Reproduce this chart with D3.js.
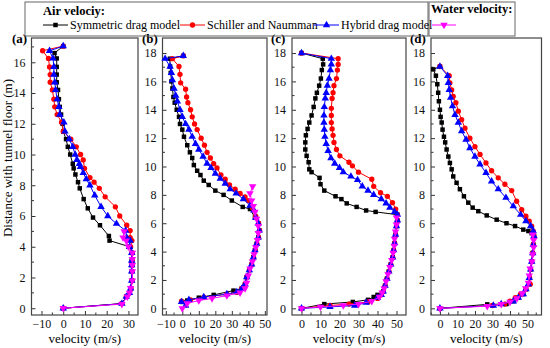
<!DOCTYPE html>
<html>
<head>
<meta charset="utf-8">
<script src="https://cdn.jsdelivr.net/npm/d3@7"></script>
<style>
body { margin:0; background:#fff; }
text { font-family:"Liberation Serif","Times New Roman",serif; }
</style>
</head>
<body>
<script>
// velocity profiles, [velocity m/s, height m]
var aSym = [[0,17.05],[-4,16.6],[-3,16.25],[-3,15.7],[-3,15.2],[-3,14.7],[-2.4,14.2],[-2,13.6],[-1.6,13.1],[-1,12.6],[-0.3,12],[0,11.5],[1.3,11],[2.1,10.5],[3.2,10],[4.4,9.4],[4.8,9.1],[5.6,8.7],[6.8,8.2],[7.6,7.8],[9.4,7.1],[11.3,6.5],[13.7,5.9],[16.9,5.4],[21,4.7],[21.3,4.4],[30.5,4.0],[31.5,3.6],[31.5,3.1],[31.5,2.8],[31.5,2.4],[31.5,1.8],[31,1.3],[30.5,1.0],[29,0.75],[27,0.3],[0,0]];
var aSch = [[0,17.05],[-9.5,16.75],[-6.8,16.25],[-6.3,15.7],[-6,15.2],[-6,14.7],[-5,14.2],[-4.3,13.6],[-3.9,13.1],[-2.8,12.6],[-0.8,12.1],[0,11.5],[3.5,11],[6,10.5],[8,10],[9.2,9.65],[9.8,9.1],[12.3,8.5],[14.2,8.2],[16.6,7.8],[19.3,7.25],[24,6.6],[26,6.0],[29.2,5.4],[30.8,5.05],[30.8,4.6],[31.6,4.4],[31,4.0],[31.8,3.6],[31.8,3.1],[31.8,2.8],[31.8,2.4],[31.8,1.8],[31.2,1.3],[30.5,1.0],[29,0.75],[27,0.3],[0,0]];
var aHyb = [[0,17.05],[-6.3,16.75],[-4.7,16.25],[-4.3,15.7],[-4.3,15.2],[-3.9,14.7],[-3.5,14.2],[-2.8,13.6],[-2,13.1],[-1.6,12.6],[0.3,12.1],[0.8,11.5],[2.8,11],[4.4,10.5],[5.5,10],[6.3,9.65],[7.4,9.4],[7.9,9.2],[9.2,8.8],[10.6,8.4],[12.3,8.0],[14.5,7.35],[17.4,6.6],[20.5,6.0],[24.5,5.5],[28.7,5.05],[29.2,4.6],[30.8,4.4],[30.5,4.0],[31.5,3.6],[31.5,3.1],[31.5,2.8],[31.5,2.4],[31.5,1.8],[31,1.3],[30.5,1.0],[29,0.75],[27,0.3],[0,0]];
var aWat = [[28,5.0],[27.5,4.6],[29,4.4],[30,4.0],[31.8,3.6],[31.8,3.2],[31.8,2.8],[31.8,2.4],[31.8,1.8],[31,1.3],[30.5,1.0],[29.5,0.75],[27,0.27],[0,0]];

var bSym = [[0.6,17.8],[-7.5,17.6],[-7.4,17.05],[-7,16.6],[-6.6,16.0],[-6,15.5],[-5.4,14.9],[-4.6,14.5],[-3.4,14.0],[-2,13.5],[-1.4,13.0],[0,12.6],[1,12.1],[3,11.5],[4.6,11.0],[6,10.6],[7,10.1],[9,9.7],[11,9.4],[13,9.0],[16,8.7],[20,8.3],[25,8.0],[30,7.6],[36.6,7.15],[41,7.0],[44,6.4],[46,6.0],[46.6,5.5],[46,5.0],[45,4.55],[44,4.1],[43,3.6],[42,3.1],[40.6,2.7],[39,2.2],[38,1.7],[36,1.4],[31,1.25],[19,0.95],[10,0.75],[3,0.55],[0,0.45]];
var bSch = [[0.6,17.8],[-6,17.6],[-2,17.05],[-1.4,16.5],[-1,15.9],[2,15.45],[2.6,14.9],[3.4,14.5],[5,14.0],[6,13.5],[7.4,13.0],[9,12.6],[11.4,12.0],[13.4,11.5],[15,11.0],[17,10.6],[19,10.2],[21,9.9],[23.4,9.4],[26,9.1],[28.6,8.7],[32,8.4],[35,8.1],[38,7.85],[40,7.6],[42.5,7.1],[44.5,6.5],[46.2,6.0],[46.8,5.5],[46.2,5.0],[45.2,4.55],[44.2,4.1],[43.2,3.6],[42,3.1],[40.6,2.7],[39,2.2],[38,1.7],[36,1.4],[33,1.13],[27,1.0],[13,0.78],[5,0.6],[-0.5,0.5]];
var bHyb = [[0.6,17.8],[-10.4,17.6],[-7.4,17.05],[-6.6,16.6],[-6,16.1],[-5,15.5],[-4,15.0],[-3,14.6],[-1.4,14.0],[0,13.5],[2,13.0],[4,12.6],[6,12.1],[8,11.6],[10,11.2],[12.6,10.7],[15,10.2],[17.4,9.9],[20,9.5],[23,9.15],[26,8.8],[29,8.4],[32.6,8.1],[37,7.7],[41,7.25],[43.4,6.9],[44.5,6.4],[46,6.0],[46.6,5.5],[46,5.0],[45,4.55],[44,4.1],[43,3.6],[42,3.1],[40.6,2.7],[39,2.2],[38,1.7],[36,1.37],[33,1.15],[27,1.0],[13,0.8],[4,0.6],[-0.5,0.45],[2,0.2]];
var bWat = [[42.6,8.6],[41,8.1],[42,7.6],[43,7.2],[44,6.8],[45,6.3],[46,5.8],[46,5.3],[45.5,4.8],[44.5,4.3],[43.5,3.8],[42.5,3.3],[41,2.8],[40,2.3],[39,1.8],[38,1.4],[35,1.1],[27,0.9],[18,0.7],[10,0.55],[3,0.35],[0,0]];

var cSym = [[0,18],[11.2,17.6],[11.4,17.2],[10.7,16.8],[10.2,16.2],[9.3,15.7],[8.1,15.2],[7.3,14.8],[6.4,14.2],[5.3,13.6],[4.1,13.1],[3.2,12.65],[2.3,12.2],[2,11.7],[2,11.2],[2.7,10.75],[3.75,10.3],[4.1,9.8],[5.3,9.6],[9.5,9.2],[10,8.75],[12,8.3],[17.9,7.9],[21,7.7],[23.8,7.4],[29,7.15],[34,6.9],[39,6.8],[50.5,6.6],[50.5,6.2],[50,5.8],[49.5,5.2],[49,4.6],[48.5,4.1],[48,3.6],[47,3.1],[46,2.6],[45,2.1],[44,1.6],[43,1.2],[40,0.95],[38,0.8],[35,0.6],[27,0.45],[12,0.3],[0,0]];
var cSch = [[0,18],[19.3,17.6],[19.3,17.2],[18.9,16.8],[18.4,16.2],[17.1,15.7],[16.6,15.2],[16.1,14.8],[15.7,14.1],[15.7,13.6],[15.7,13.1],[16.1,12.65],[16.6,12.2],[17.1,11.7],[18.4,11.2],[20.2,10.75],[25,10.3],[26.8,10.05],[30,9.6],[37,9.1],[38,8.6],[41.6,8.15],[45.2,7.9],[47.9,7.45],[49.6,7.0],[50.5,6.6],[50.5,6.2],[50,5.8],[49.5,5.2],[49,4.6],[48.5,4.1],[48,3.6],[47,3.1],[46,2.6],[45,2.1],[44,1.6],[43,1.2],[42,0.95],[40,0.7],[35,0.45],[25,0.3],[15,0.2],[0,0]];
var cHyb = [[0,18],[15.7,17.6],[15.7,17.2],[15.2,16.8],[14.5,16.2],[13.6,15.7],[13,15.2],[12.5,14.8],[12,14.2],[11.8,13.6],[11.8,13.1],[12,12.6],[12.3,12.1],[13,11.6],[14,11.1],[15.5,10.6],[17.5,10.2],[20,9.9],[22,9.6],[26,9.3],[29.5,9.05],[32,8.6],[35,8.3],[38,8.0],[42,7.7],[44.5,7.4],[46.5,7.1],[49,6.8],[50.5,6.6],[50.5,6.2],[50,5.8],[49.5,5.2],[49,4.6],[48.5,4.1],[48,3.6],[47,3.1],[46,2.6],[45,2.1],[44,1.6],[43,1.2],[42,0.95],[40,0.75],[34,0.4],[28,0.2],[15,0.1],[0,0]];
var cWat = [[50,6.4],[50,5.9],[49.5,5.4],[49,4.9],[48.8,4.4],[48.2,3.9],[47.5,3.4],[46.5,2.9],[45.5,2.4],[44.5,1.9],[43.5,1.4],[42.5,1.1],[41,0.8],[37,0.5],[30,0.3],[22,0.2],[10,0.1],[0,0]];

var dSym = [[0,17.05],[-3.8,16.85],[-2.3,16.4],[-1.5,15.8],[-1,15.2],[-0.6,14.6],[0,14.0],[0.4,13.5],[1,13.1],[1.5,12.6],[2.3,12.1],[3,11.7],[3.8,11.2],[4.8,10.7],[5.7,10.25],[6.7,9.8],[7.6,9.3],[9.5,8.85],[11.4,8.4],[13.7,7.9],[16.2,7.45],[18.7,7.1],[21.9,6.85],[26.7,6.55],[32.4,6.25],[38,6.0],[42.9,5.8],[47.6,5.55],[50.5,5.45],[52.4,5.3],[53.7,5.1],[53.3,4.5],[53,3.9],[52.4,3.3],[51.8,2.75],[51,2.15],[50.5,1.7],[49.1,1.35],[47.6,1.0],[44.8,0.75],[41.9,0.5],[38,0.3],[27,0.28],[0,0]];
var dSch = [[0,17.05],[5.3,16.4],[5.7,15.9],[6.7,15.4],[7.6,14.95],[9.1,14.5],[10.5,13.9],[12.4,13.3],[14.3,12.7],[17.1,12.0],[20,11.4],[22.9,10.85],[26.3,10.25],[29.5,9.7],[33.3,9.2],[37.1,8.75],[41,8.3],[43.8,7.55],[46.7,6.95],[49.1,6.5],[51,6.15],[52.4,5.8],[53.3,5.45],[53.7,5.1],[53.3,4.5],[53,3.9],[52.4,3.3],[51.8,2.75],[51.2,2.15],[51.6,1.7],[49.1,1.35],[46,1.0],[43,0.75],[40,0.5],[37,0.3],[30,0.2],[0,0]];
var dHyb = [[0,17.05],[4.4,16.4],[4.8,15.9],[5.3,15.4],[6.1,14.85],[7.2,14.25],[8.6,13.65],[10.5,13.1],[12.4,12.5],[14.9,11.9],[17.1,11.3],[20,10.7],[22.9,10.15],[26.3,9.55],[29.5,8.95],[33.3,8.4],[37.7,7.8],[41.9,7.2],[46.1,6.6],[49.1,6.15],[51.8,5.8],[53.3,5.45],[53.7,5.1],[53.3,4.5],[53,3.9],[52.4,3.3],[51.8,2.75],[51,2.15],[50.5,1.7],[49.1,1.35],[47.6,1.0],[44.8,0.75],[41.9,0.5],[35,0.3],[30.5,0.2],[0,0]];
var dWat = [[53,5.2],[53.5,4.8],[53.5,4.3],[53,3.8],[52.5,3.3],[51.5,2.8],[51,2.3],[50.5,1.8],[49,1.4],[47,1.05],[44,0.7],[40,0.45],[35,0.3],[27,0.15],[0,0]];

var panelNames = ["(a)","(b)","(c)","(d)"];
var xTickVals = [[-10,0,10,20,30],[-10,0,10,20,30,40,50],[0,10,20,30,40,50],[0,10,20,30,40,50]];
var yTickVals = [[0,2,4,6,8,10,12,14,16],[0,2,4,6,8,10,12,14,16,18],[0,2,4,6,8,10,12,14,16,18],[0,2,4,6,8,10,12,14,16,18]];
var seriesNames = ["Symmetric drag model","Schiller and Naumman","Hybrid drag model"];

var W = 550, H = 348;
var svg = d3.select("body").append("svg").attr("width",W).attr("height",H)
  .attr("font-family","Liberation Serif");

var colors = ["#000000","#ff0000","#0000ff","#ff00ff"];
var shapes = [d3.symbolSquare, d3.symbolCircle, d3.symbolTriangle, "down"];

function marker(g, k, x, y) {
  if (shapes[k] === "down") {
    g.append("path").attr("d", d3.symbol(d3.symbolTriangle).size(24)())
      .attr("transform","translate("+x+","+y+") rotate(180)").attr("fill",colors[k]);
  } else {
    var sz = k==0 ? 20 : (k==1 ? 22 : 24);
    g.append("path").attr("d", d3.symbol(shapes[k]).size(sz)())
      .attr("transform","translate("+x+","+y+")").attr("fill",colors[k]);
  }
}

var panels = [
  {x0:31.5, x1:138, xd:[-14.6,34.4], yd:[-0.44,17.58], data:[aSym,aSch,aHyb,aWat], lx:12},
  {x0:162.5, x1:267, xd:[-12,51.3], yd:[-0.47,19.06], data:[bSym,bSch,bHyb,bWat], lx:142},
  {x0:292, x1:406, xd:[-5,55], yd:[-0.47,19.06], data:[cSym,cSch,cHyb,cWat], lx:271},
  {x0:431, x1:541.5, xd:[-5.1,58], yd:[-0.47,19.06], data:[dSym,dSch,dHyb,dWat], lx:410}
];
var topY = 38, botY = 315;

panels.forEach(function(p, i) {
  var x = d3.scaleLinear().domain(p.xd).range([p.x0, p.x1]);
  var y = d3.scaleLinear().domain(p.yd).range([botY, topY]);
  var g = svg.append("g");

  // minor ticks
  var xMinor = d3.range(-15, 60, 5).filter(function(v){ return v>p.xd[0] && v<p.xd[1] && xTickVals[i].indexOf(v)<0; });
  var yMinor = d3.range(1, 19, 2).filter(function(v){ return v<p.yd[1]; });

  var xAxis = d3.axisBottom(x).tickValues(xTickVals[i]).tickSizeInner(-4).tickSizeOuter(0).tickPadding(4);
  var yAxis = d3.axisLeft(y).tickValues(yTickVals[i]).tickSizeInner(-4).tickSizeOuter(0).tickPadding(6);
  var ax = g.append("g").attr("transform","translate(0,"+botY+")").call(xAxis);
  var ay = g.append("g").attr("transform","translate("+p.x0+",0)").call(yAxis);
  [ax, ay].forEach(function(a){
    a.attr("font-family","Liberation Serif");
    a.select(".domain").remove();
    a.selectAll("line").attr("stroke","#333");
    a.selectAll("text").attr("font-size",12).attr("fill","#111");
  });
  g.selectAll(".xm").data(xMinor).enter().append("line")
    .attr("x1",function(d){return x(d);}).attr("x2",function(d){return x(d);})
    .attr("y1",botY).attr("y2",botY-2.5).attr("stroke","#333");
  g.selectAll(".ym").data(yMinor).enter().append("line")
    .attr("x1",p.x0).attr("x2",p.x0+2.5)
    .attr("y1",function(d){return y(d);}).attr("y2",function(d){return y(d);}).attr("stroke","#333");

  // frame
  g.append("rect").attr("x",p.x0).attr("y",topY).attr("width",p.x1-p.x0).attr("height",botY-topY)
    .attr("fill","none").attr("stroke","#444").attr("stroke-width",1.2);

  var line = d3.line().x(function(d){return x(d[0]);}).y(function(d){return y(d[1]);});
  p.data.forEach(function(s, k) {
    g.append("path").datum(s).attr("d",line).attr("fill","none").attr("stroke",colors[k]).attr("stroke-width",1);
    s.forEach(function(d){ marker(g, k, x(d[0]), y(d[1])); });
  });

  g.append("text").attr("x",p.lx).attr("y",43).attr("font-size",13).attr("font-weight","bold").text(panelNames[i]);
  g.append("text").attr("x",(p.x0+p.x1)/2).attr("y",343).attr("text-anchor","middle").attr("font-size",13).text("velocity (m/s)");
});

svg.append("text").attr("transform","translate(12,158) rotate(-90)").attr("text-anchor","middle")
  .attr("font-size",13).text("Distance with tunnel floor (m)");

// legend
var leg = svg.append("g");
leg.append("rect").attr("x",25).attr("y",2).attr("width",403).attr("height",34).attr("fill","none").attr("stroke","#666");
leg.append("rect").attr("x",429).attr("y",2).attr("width",86).attr("height",34).attr("fill","none").attr("stroke","#666");
leg.append("text").attr("x",43).attr("y",15).attr("font-size",12.5).attr("font-weight","bold").text("Air velociy:");
leg.append("text").attr("x",431).attr("y",13).attr("font-size",12.5).attr("font-weight","bold").text("Water velocity:");
var lx = [43,180,314];
seriesNames.forEach(function(n, k){
  leg.append("line").attr("x1",lx[k]).attr("x2",lx[k]+25).attr("y1",25).attr("y2",25).attr("stroke",colors[k]);
  marker(leg, k, lx[k]+12.5, 25);
  leg.append("text").attr("x",lx[k]+27).attr("y",29).attr("font-size",12).text(n);
});
leg.append("line").attr("x1",432).attr("x2",456).attr("y1",25).attr("y2",25).attr("stroke",colors[3]);
marker(leg, 3, 444, 25);
</script>
</body>
</html>
